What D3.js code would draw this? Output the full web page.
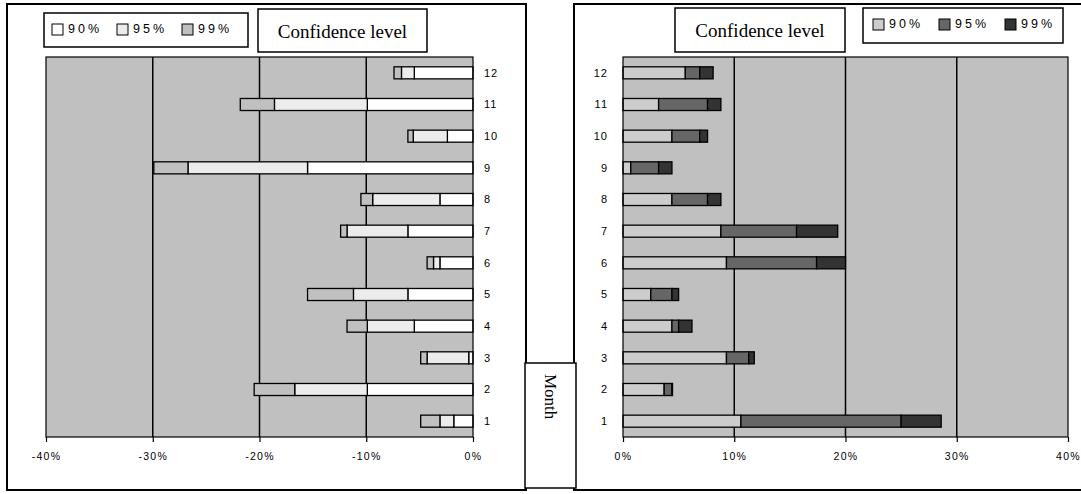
<!DOCTYPE html>
<html><head><meta charset="utf-8">
<script src="https://cdn.jsdelivr.net/npm/d3@7/dist/d3.min.js"></script>
<style>html,body{margin:0;padding:0;background:#fff;}svg{display:block;}</style>
</head><body>
<svg id="c" width="1081" height="494"></svg>
<script>
// ---- data ----
const months = [1,2,3,4,5,6,7,8,9,10,11,12];
const levels = ["90%","95%","99%"];
// left panel: lower bounds (%) for each confidence level
const left90 = [-1.8,-9.9,-0.4,-5.5,-6.1,-3.1,-6.1,-3.1,-15.5,-2.4,-9.9,-5.5];
const left95 = [-3.1,-16.7,-4.3,-9.9,-11.2,-3.7,-11.8,-9.4,-26.7,-5.6,-18.6,-6.7];
const left99 = [-4.9,-20.5,-4.9,-11.8,-15.5,-4.3,-12.4,-10.5,-29.9,-6.1,-21.8,-7.4];
// right panel: upper bounds (%)
const right90 = [10.6,3.7,9.3,4.4,2.5,9.3,8.8,4.4,0.7,4.4,3.2,5.6];
const right95 = [25.0,4.4,11.3,5.0,4.4,17.4,15.6,7.6,3.2,6.9,7.6,6.9];
const right99 = [28.6,4.45,11.8,6.2,5.0,20.0,19.3,8.8,4.4,7.6,8.8,8.1];
const leftTicks = [-40,-30,-20,-10,0];
const rightTicks = [0,10,20,30,40];
const leftColors = ["#ffffff","#ececec","#c0c0c0"];
const rightColors = ["#cccccc","#666666","#333333"];

const svg = d3.select("#c");
const SANS = "'Liberation Sans', Arial, sans-serif";
const SERIF = "'Liberation Serif', 'Times New Roman', serif";

// outer panel frames
svg.append("rect").attr("x",7).attr("y",4).attr("width",519).attr("height",486)
  .attr("fill","#fff").attr("stroke","#000").attr("stroke-width",2);
svg.append("rect").attr("x",574).attr("y",4).attr("width",530).attr("height",486)
  .attr("fill","#fff").attr("stroke","#000").attr("stroke-width",2);

const plotTop = 57, plotBottom = 437;
const y = d3.scaleBand().domain(months.slice().reverse()).range([plotTop,plotBottom]).paddingInner(0.62).paddingOuter(0.31);

function panel(opts){
  const {x, ticks, series, colors, labelX, labelAnchor} = opts;
  const g = svg.append("g");
  const [x0,x1] = x.range();
  g.append("rect").attr("x",x0).attr("y",plotTop).attr("width",x1-x0).attr("height",plotBottom-plotTop).attr("fill","#c0c0c0");
  g.selectAll("line.grid").data(ticks.slice(1,-1)).join("line")
    .attr("x1",d=>x(d)).attr("x2",d=>x(d)).attr("y1",plotTop).attr("y2",plotBottom)
    .attr("stroke","#000").attr("stroke-width",1.5);
  months.forEach((m,i)=>{
    let prev = 0;
    series.forEach((s,k)=>{
      const v = s[i];
      const a = Math.min(x(prev),x(v)), b = Math.max(x(prev),x(v));
      if (b-a > 0.01) {
        g.append("rect").attr("x",a).attr("y",y(m)).attr("width",b-a).attr("height",y.bandwidth())
          .attr("fill",colors[k]).attr("stroke","#000").attr("stroke-width",1.3);
      }
      prev = v;
    });
  });
  g.append("rect").attr("x",x0).attr("y",plotTop).attr("width",x1-x0).attr("height",plotBottom-plotTop)
    .attr("fill","none").attr("stroke","#000").attr("stroke-width",1.2);
  const ax = g.append("g").attr("transform",`translate(0,${plotBottom})`)
    .call(d3.axisBottom(x).tickValues(ticks).tickSize(5).tickPadding(11).tickFormat(d=>d+"%"));
  ax.select(".domain").remove();
  ax.selectAll("line").attr("stroke","#000").attr("stroke-width",1.2);
  ax.selectAll("text").attr("font-family",SANS).attr("font-size",10.5).attr("letter-spacing","1.3px").attr("fill","#000");
  g.selectAll("text.m").data(months).join("text")
    .attr("x",labelX).attr("y",d=>y(d)+y.bandwidth()/2).attr("dy","0.35em")
    .attr("text-anchor",labelAnchor).attr("font-family",SANS).attr("font-size",11)
    .attr("letter-spacing","1px").text(d=>d);
}

const xl = d3.scaleLinear().domain([-40,0]).range([46,473]);
const xr = d3.scaleLinear().domain([0,40]).range([623,1068]);
panel({x:xl, ticks:leftTicks, series:[left90,left95,left99], colors:leftColors, labelX:484, labelAnchor:"start"});
panel({x:xr, ticks:rightTicks, series:[right90,right95,right99], colors:rightColors, labelX:608, labelAnchor:"end"});

function legend(x, yy, w, h, colors, sw0, step){
  svg.append("rect").attr("x",x).attr("y",yy).attr("width",w).attr("height",h)
    .attr("fill","#fff").attr("stroke","#000").attr("stroke-width",1.5);
  levels.forEach((l,i)=>{
    const sx = sw0 + i*step;
    svg.append("rect").attr("x",sx).attr("y",yy+11).attr("width",11).attr("height",11)
      .attr("fill",colors[i]).attr("stroke","#000").attr("stroke-width",1);
    svg.append("text").attr("x",sx+16).attr("y",yy+20).attr("font-family",SANS).attr("font-size",12.5)
      .attr("letter-spacing","3px").text(l);
  });
}
legend(44,13,204,34,leftColors,52,65);
legend(863,8,200,35,rightColors,873,66);

function confBox(x,yy,w,h){
  svg.append("rect").attr("x",x).attr("y",yy).attr("width",w).attr("height",h)
    .attr("fill","#fff").attr("stroke","#000").attr("stroke-width",1.5);
  svg.append("text").attr("x",x+w/2).attr("y",yy+29).attr("text-anchor","middle")
    .attr("font-family",SERIF).attr("font-size",19).text("Confidence level");
}
confBox(258,9,169,43);
confBox(675,8,170,44);

svg.append("rect").attr("x",525).attr("y",363).attr("width",51).attr("height",125)
  .attr("fill","#fff").attr("stroke","#000").attr("stroke-width",1.5);
svg.append("text").attr("transform","translate(545,374) rotate(90)")
  .attr("font-family",SERIF).attr("font-size",17).text("Month");
</script>
</body></html>
